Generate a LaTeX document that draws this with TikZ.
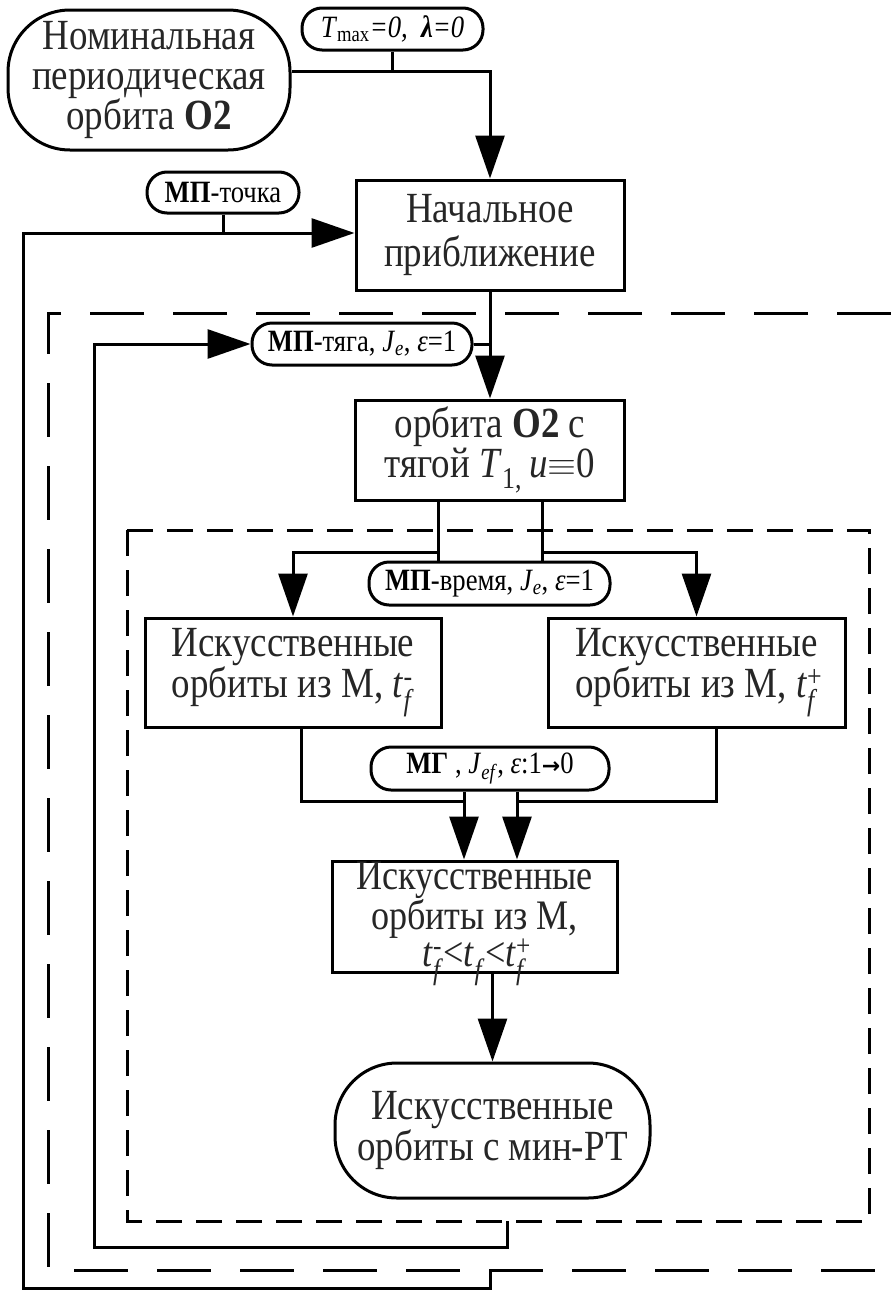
\documentclass[tikz,border=0pt]{standalone}
\usepackage{fontspec}
\usepackage{graphicx}
\setmainfont{Liberation Serif}[FakeStretch=0.86]
\newfontfamily\djv{DejaVu Sans}
\usetikzlibrary{arrows.meta}
\tikzset{
  big/.style={font=\fontsize{43}{40}\selectfont, text=black!85},
  small/.style={font=\fontsize{31}{33}\selectfont},
  stepbox/.style={draw, rectangle, inner sep=0pt, align=center, big},
  textonly/.style={inner sep=0pt, align=center, big},
  oval/.style={draw, rectangle, rounded corners=62pt, inner sep=0pt, align=center, big},
  pill/.style={draw, rectangle, rounded corners=20pt, inner sep=0pt, align=center, small},
  arr/.style={-{Triangle[length=43pt,width=29pt]}},
  outerdash/.style={dash pattern=on 54pt off 29pt},
  innerdash/.style={dash pattern=on 26pt off 14pt},
}
\newcommand{\tfm}{\textit{t}\rlap{\raisebox{2pt}{\textsuperscript{-}}}\textsubscript{\textit{f}}}
\newcommand{\tfp}{\textit{t}\rlap{\raisebox{2pt}{\textsuperscript{+}}}\textsubscript{\textit{f}}}
\newcommand{\bigequiv}{\raisebox{2pt}{\scalebox{1.5}[1.3]{$\equiv$}}}
\begin{document}
\begin{tikzpicture}[x=1pt,y=-1pt,line width=3pt]
\useasboundingbox (0,0) rectangle (891,1291);
% nodes
\node[oval, minimum width=282pt, minimum height=140pt] (nom) at (149,80)
  {Номинальная\\периодическая\\орбита \textbf{O2}};
\node[pill, minimum width=181pt, minimum height=42pt] (p1) at (392.5,29)
  {\textit{T}\textsubscript{max}\textit{=0,~~}\textbf{\textit{λ}}\textit{=0}};
\node[stepbox, minimum width=268pt, minimum height=110pt, font=\fontsize{43}{44}\selectfont] (start) at (490,235)
  {Начальное\\приближение};
\node[pill, minimum width=152pt, minimum height=41pt] (ptoch) at (223,192.5)
  {\textbf{МП}-точка};
\node[pill, minimum width=220pt, minimum height=42pt] (ptyag) at (362,344)
  {\textbf{МП}-тяга, \textit{J}\textsubscript{\textit{e}}, \textit{ε}=1};
\node[stepbox, minimum width=269pt, minimum height=100pt, font=\fontsize{43}{36}\selectfont] (o2) at (490,450)
  {орбита \textbf{O2} с\\тягой \textit{T}\textsubscript{1,}\,\textit{u}\bigequiv0};
\node[pill, minimum width=241pt, minimum height=43pt] (pvrem) at (489.5,583.5)
  {\textbf{МП}-время, \textit{J}\textsubscript{\textit{e}}, \textit{ε}=1};
\node[stepbox, minimum width=296pt, minimum height=109pt] (lbox) at (293,672.5)
  {Искусственные\\орбиты из М, \tfm};
\node[stepbox, minimum width=297pt, minimum height=109pt] (rbox) at (696.5,672.5)
  {Искусственные\\орбиты из М, \tfp};
\node[pill, minimum width=238pt, minimum height=43pt] (pmg) at (490,768.5)
  {\textbf{МГ} , \textit{J}\textsubscript{\textit{ef}}, \textit{ε}:1{\djv\bfseries\fontsize{22}{22}\selectfont →}0};
\node[draw, rectangle, minimum width=285pt, minimum height=111pt] (box3) at (474.5,916.5) {};
\node[textonly, font=\fontsize{42}{32}\selectfont] (box3t) at ([yshift=-7pt]box3.center)
  {Искусственные\\орбиты из М,\\\tfm<\textit{t}\textsubscript{\textit{f}}<\tfp};
\node[oval, minimum width=315pt, minimum height=135pt] (fin) at (492.5,1130.5)
  {Искусственные\\орбиты с мин-РТ};
% coordinates
\coordinate (j1) at (490,71);
\coordinate (lp1) at (490,1270);
\coordinate (lp2) at (490,1288);
\coordinate (lp3) at (23,1288);
\coordinate (lp4) at (23,233);
\coordinate (lq1) at (507,1221);
\coordinate (lq2) at (507,1247);
\coordinate (lq3) at (94,1247);
\coordinate (lq4) at (94,344);
\coordinate (s1) at (438,552);
\coordinate (s2) at (542,552);
\coordinate (m1) at (301,801);
\coordinate (m2) at (716,801);
% connectors
\draw[arr] (nom.east |- j1) -- (j1) -- (start.north);
\draw (p1.south) -- (p1.south |- j1);
\draw[arr] (lp1) -- (lp2) -- (lp3) -- (lp4) -- (lp4 -| start.west);
\draw (ptoch.south) -- (ptoch.south |- lp4);
\draw[arr] (start.south) -- (o2.north);
\draw[arr] (lq1) -- (lq2) -- (lq3) -- (lq4) -- (ptyag.west);
\draw (ptyag.east) -- (ptyag.east -| o2.north);
\draw (o2.south -| s1) -- (pvrem.north -| s1);
\draw (o2.south -| s2) -- (pvrem.north -| s2);
\draw[arr] (s1) -- (s1 -| lbox.north) -- (lbox.north);
\draw[arr] (s2) -- (s2 -| rbox.north) -- (rbox.north);
\draw (lbox.south -| m1) -- (m1) -- (m1 -| 464,0);
\draw (rbox.south -| m2) -- (m2) -- (m2 -| 517,0);
\draw[arr] (pmg.south -| 464,0) -- (box3.north -| 464,0);
\draw[arr] (pmg.south -| 517,0) -- (box3.north -| 517,0);
\draw[arr] (box3.south -| fin.north) -- (fin.north);
% dashed frames
\draw[outerdash] (891,313) -- (48,313) -- (48,1270) -- (891,1270);
\draw[innerdash] (127,530) rectangle (869,1221);
\end{tikzpicture}
\end{document}
